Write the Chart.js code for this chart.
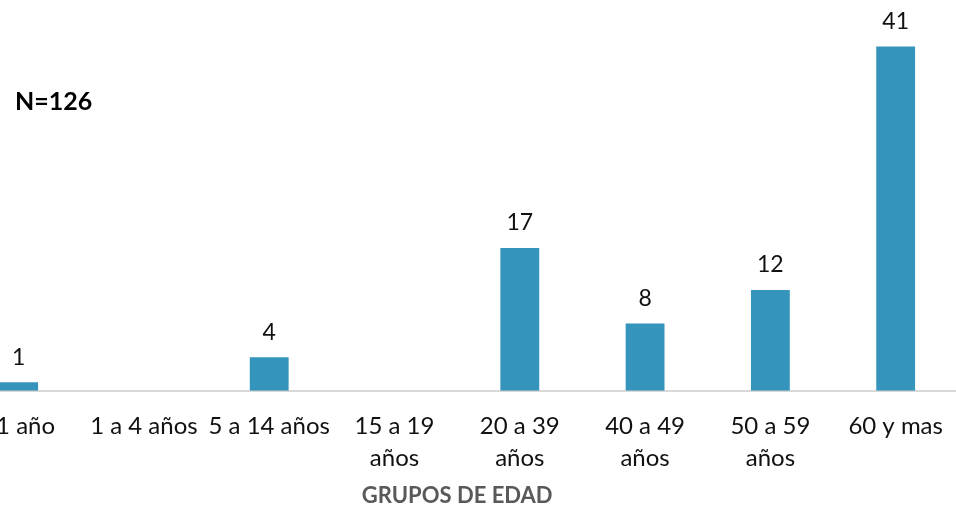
<!DOCTYPE html>
<html>
<head>
<meta charset="utf-8">
<script src="https://cdn.jsdelivr.net/npm/chart.js@4.4.1/dist/chart.umd.min.js"></script>
<style>
  html, body { margin: 0; padding: 0; background: #fff; overflow: hidden; }
  #wrap { position: relative; width: 956px; height: 508px; overflow: hidden; }
  #box { position: absolute; left: -58px; top: 0; width: 1020px; height: 508px; }
</style>
</head>
<body>
<div id="wrap">
  <div id="box"><canvas id="grafico"></canvas></div>
</div>
<script>
// grupos de edad y casos
const grupos = ['<1 año', '1 a 4 años', '5 a 14 años', ['15 a 19', 'años'], ['20 a 39', 'años'], ['40 a 49', 'años'], ['50 a 59', 'años'], '60 y mas'];
const casos = [1, 0, 4, 0, 17, 8, 12, 41];
const totalTexto = 'N=126';
const tituloEje = 'GRUPOS DE EDAD';

const fuente = 'Lato, "Open Sans", sans-serif';

// etiquetas encima de cada barra, texto N y titulo del eje
const etiquetas = {
    id: 'etiquetas',
    afterDatasetsDraw(chart) {
        const ctx = chart.ctx;
        const meta = chart.getDatasetMeta(0);
        const area = chart.chartArea;
        ctx.save();
        ctx.fillStyle = '#111';
        ctx.font = '23px ' + fuente;
        ctx.textAlign = 'center';
        ctx.textBaseline = 'middle';
        meta.data.forEach((bar, i) => {
            if (!casos[i]) return;
            ctx.fillText(String(casos[i]), bar.x, bar.y - 25);
        });
        // titulo del eje x
        ctx.font = 'bold 22px ' + fuente;
        ctx.fillStyle = '#595959';
        ctx.fillText(tituloEje, (area.left + area.right) / 2, 496);
        // N total
        ctx.font = 'bold 25px ' + fuente;
        ctx.textAlign = 'left';
        ctx.fillStyle = '#000';
        ctx.fillText(totalTexto, 73, 102);
        ctx.restore();
    }
};

new Chart(document.getElementById('grafico'), {
    type: 'bar',
    data: {
        labels: grupos,
        datasets: [{
            data: casos,
            backgroundColor: '#3594bc',
            barPercentage: 0.31,
            categoryPercentage: 1
        }]
    },
    options: {
        responsive: true,
        maintainAspectRatio: false,
        animation: false,
        layout: { padding: { left: 14, right: 1, top: 13, bottom: 14 } },
        plugins: {
            legend: { display: false },
            tooltip: { enabled: false }
        },
        scales: {
            x: {
                grid: { display: false, drawTicks: false },
                border: { display: true, color: '#d9d9d9', width: 2 },
                ticks: {
                    color: '#111',
                    font: { family: fuente, size: 24, lineHeight: 1.36 },
                    padding: 19,
                    maxRotation: 0,
                    autoSkip: false
                },
                title: { display: false }
            },
            y: {
                display: false,
                min: 0,
                max: 45
            }
        }
    },
    plugins: [etiquetas]
});
</script>
</body>
</html>
